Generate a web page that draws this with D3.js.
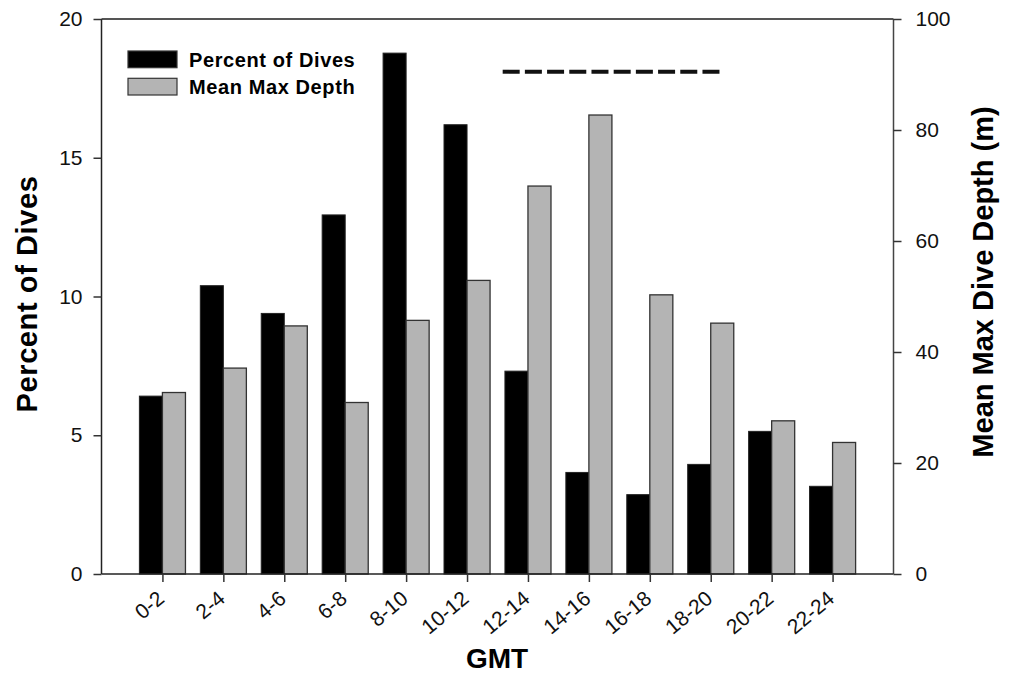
<!DOCTYPE html>
<html lang="en">
<head>
<meta charset="UTF-8">
<title>Dives by GMT</title>
<script src="https://d3js.org/d3.v7.min.js"></script>
<style>
    body { margin: 0; background: #fff; }
    svg { display: block; font-family: "Liberation Sans", Arial, sans-serif; }
    .tick text { font-size: 21px; fill: #111; }
    .tick line { stroke: #333; stroke-width: 1.5px; }
    .domain { display: none; }
    .title { font-weight: bold; fill: #000; }
</style>
</head>
<body>
<div id="chart"></div>
<script>
// GMT bins (2 h each)
const bins = ["0-2", "2-4", "4-6", "6-8", "8-10", "10-12", "12-14", "14-16", "16-18", "18-20", "20-22", "22-24"];
// percent of dives per bin (left axis)
const pctDives = [6.41, 10.39, 9.39, 12.94, 18.77, 16.19, 7.31, 3.66, 2.86, 3.95, 5.14, 3.16];
// mean max dive depth, m (right axis)
const meanDepth = [32.7, 37.1, 44.7, 30.9, 45.7, 52.9, 69.9, 82.7, 50.3, 45.2, 27.6, 23.7];
const pctTicks = [0, 5, 10, 15, 20];
const depthTicks = [0, 20, 40, 60, 80, 100];
// dashed bar: GMT hours span, drawn at a depth level
const nightGMT = [12.17, 19.33];
const nightLevel = 90.5;

const W = 1010, H = 675;
const mLeft = 101.5, mRight = 893.5, mTop = 19, mBottom = 574;

const svg = d3.select("#chart").append("svg")
    .attr("width", W).attr("height", H);

// hours scale, bin i is centred on hour 2i+1
const x = d3.scaleLinear().domain([-1, 25]).range([mLeft, mRight]);
const yL = d3.scaleLinear().domain([0, 20]).range([mBottom, mTop]);
const yR = d3.scaleLinear().domain([0, 100]).range([mBottom, mTop]);
const barW = (x(2) - x(0)) * 0.378;

// bars
const g = svg.append("g");
g.selectAll("rect.pct").data(pctDives).enter().append("rect")
    .attr("class", "pct")
    .attr("x", (d, i) => x(2 * i + 1) - barW)
    .attr("y", d => yL(d))
    .attr("width", barW)
    .attr("height", d => yL(0) - yL(d))
    .attr("fill", "#000").attr("stroke", "#222").attr("stroke-width", 1);

g.selectAll("rect.depth").data(meanDepth).enter().append("rect")
    .attr("class", "depth")
    .attr("x", (d, i) => x(2 * i + 1))
    .attr("y", d => yR(d))
    .attr("width", barW)
    .attr("height", d => yR(0) - yR(d))
    .attr("fill", "#b4b4b4").attr("stroke", "#333").attr("stroke-width", 1.3);

// frame
svg.append("line").attr("x1", mLeft).attr("x2", mRight).attr("y1", mTop).attr("y2", mTop)
    .attr("stroke", "#555").attr("stroke-width", 2);
svg.append("line").attr("x1", mLeft).attr("x2", mRight).attr("y1", mBottom).attr("y2", mBottom)
    .attr("stroke", "#222").attr("stroke-width", 1.5);
svg.append("line").attr("x1", mLeft).attr("x2", mLeft).attr("y1", mTop).attr("y2", mBottom)
    .attr("stroke", "#222").attr("stroke-width", 1.5);
svg.append("line").attr("x1", mRight).attr("x2", mRight).attr("y1", mTop).attr("y2", mBottom)
    .attr("stroke", "#444").attr("stroke-width", 1.5);

// axes
svg.append("g")
    .attr("transform", `translate(${mLeft},0)`)
    .call(d3.axisLeft(yL).tickValues(pctTicks).tickSize(8).tickPadding(11).tickSizeOuter(0));

svg.append("g")
    .attr("transform", `translate(${mRight},0)`)
    .call(d3.axisRight(yR).tickValues(depthTicks).tickSize(8).tickPadding(14).tickSizeOuter(0));

const gx = svg.append("g")
    .attr("transform", `translate(0,${mBottom})`)
    .call(d3.axisBottom(x).tickValues(bins.map((b, i) => 2 * i + 1))
        .tickFormat((d, i) => bins[i]).tickSize(8).tickSizeOuter(0));
gx.selectAll(".tick text")
    .attr("text-anchor", "end")
    .attr("transform", "translate(-2,21) rotate(-40)")
    .attr("x", 0).attr("y", 0)
    .attr("dy", "0.35em");

// dashed line
svg.append("line")
    .attr("x1", x(nightGMT[0])).attr("x2", x(nightGMT[1]))
    .attr("y1", yR(nightLevel)).attr("y2", yR(nightLevel))
    .attr("stroke", "#111").attr("stroke-width", 4)
    .attr("stroke-dasharray", "17,5.2");

// legend
const legend = [
    { label: "Percent of Dives", fill: "#000" },
    { label: "Mean Max Depth", fill: "#b4b4b4" }
];
const lg = svg.append("g").attr("transform", "translate(128,51)");
legend.forEach((d, i) => {
    lg.append("rect").attr("x", 0).attr("y", i * 27.3).attr("width", 49).attr("height", 16.7)
        .attr("fill", d.fill).attr("stroke", "#333").attr("stroke-width", 1.2);
    lg.append("text").attr("class", "title").attr("x", 61).attr("y", i * 27.3 + 15.7)
        .style("font-size", "20px").style("letter-spacing", "0.6px").text(d.label);
});

// axis titles
svg.append("text").attr("class", "title")
    .attr("transform", "translate(37,294) rotate(-90)")
    .attr("text-anchor", "middle").style("font-size", "29px").style("letter-spacing", "0.6px")
    .text("Percent of Dives");

svg.append("text").attr("class", "title")
    .attr("transform", "translate(993,282) rotate(-90)")
    .attr("text-anchor", "middle").style("font-size", "29px")
    .text("Mean Max Dive Depth (m)");

svg.append("text").attr("class", "title")
    .attr("x", 497).attr("y", 668)
    .attr("text-anchor", "middle").style("font-size", "28px")
    .text("GMT");
</script>
</body>
</html>
